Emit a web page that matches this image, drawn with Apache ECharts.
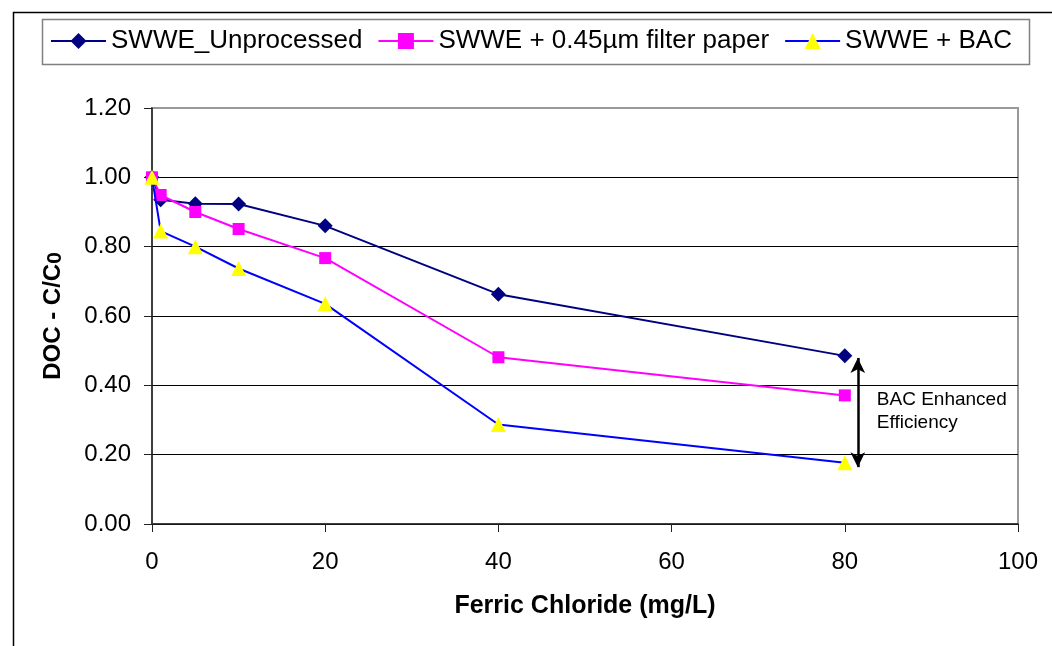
<!DOCTYPE html>
<html>
<head>
<meta charset="utf-8">
<script src="https://cdn.jsdelivr.net/npm/echarts@6/dist/echarts.min.js"></script>
<style>
html,body{margin:0;padding:0;background:#fff;}
#chart{width:1052px;height:646px;}
</style>
</head>
<body>
<div id="chart"></div>
<script>
// ---- data ----
const ferricChloride = [0, 1, 5, 10, 20, 40, 80];
const unprocessed = [1.00, 0.935, 0.924, 0.923, 0.86, 0.663, 0.485];
const filterPaper = [1.00, 0.949, 0.90, 0.851, 0.767, 0.481, 0.371];
const bac = [1.00, 0.845, 0.80, 0.737, 0.635, 0.287, 0.177];
const seriesNames = ['SWWE_Unprocessed', 'SWWE + 0.45\u00b5m filter paper', 'SWWE + BAC'];
const xTicks = [0, 20, 40, 60, 80, 100];
const yTicks = [0.00, 0.20, 0.40, 0.60, 0.80, 1.00, 1.20];
const annotationLines = ['BAC Enhanced', 'Efficiency'];
const arrowX = 81.5, arrowTop = 0.479, arrowBottom = 0.164;

const font = '"Liberation Sans", Arial, sans-serif';
const pair = (xs, ys) => xs.map((x, i) => [x, ys[i]]);

const chart = echarts.init(document.getElementById('chart'), null, {renderer: 'canvas'});
const frame = [
  {type: 'rect', left: 11, top: 10, shape: {width: 1100, height: 700}, style: {fill: 'none', stroke: '#000', lineWidth: 1.5}, z: 0, silent: true},
  {type: 'rect', left: 40, top: 17, shape: {width: 987, height: 45}, style: {fill: 'none', stroke: '#808080', lineWidth: 1.5}, z: 0, silent: true}
];
const option = {
  animation: false,
  backgroundColor: '#fff',
  textStyle: {fontFamily: font},
  grid: {left: 152, right: 34, top: 108, bottom: 122, show: true, borderColor: '#999', borderWidth: 2, backgroundColor: 'transparent'},
  legend: {
    left: 50, top: 28, padding: 0, itemGap: 15, itemWidth: 55, itemHeight: 20,
    textStyle: {fontSize: 26, color: '#000', fontFamily: font, padding: [0, 0, 0, 0]},
    data: seriesNames
  },
  xAxis: {
    type: 'value', min: xTicks[0], max: xTicks[xTicks.length - 1], interval: 20,
    name: 'Ferric Chloride (mg/L)', nameLocation: 'middle', nameGap: 70,
    nameTextStyle: {fontSize: 25, fontWeight: 'bold', color: '#000', fontFamily: font},
    axisLine: {lineStyle: {color: '#222', width: 1.5}},
    axisTick: {show: true, inside: false, length: 8, lineStyle: {color: '#222'}},
    axisLabel: {fontSize: 24, color: '#000', margin: 26, fontFamily: font},
    splitLine: {show: false}
  },
  yAxis: {
    type: 'value', min: yTicks[0], max: yTicks[yTicks.length - 1], interval: 0.2,
    name: 'DOC - C/C{sub|0}', nameLocation: 'middle', nameGap: 86, nameRotate: 90,
    nameTextStyle: {fontSize: 24, fontWeight: 'bold', color: '#000', fontFamily: font,
      rich: {sub: {fontSize: 21, fontWeight: 'bold', color: '#000', fontFamily: font, verticalAlign: 'bottom', padding: [4, 0, 0, 0]}}},
    axisLine: {show: true, lineStyle: {color: '#222', width: 1.5}},
    axisTick: {show: true, inside: false, length: 8, lineStyle: {color: '#222'}},
    axisLabel: {fontSize: 24, color: '#000', margin: 21, fontFamily: font, formatter: v => v.toFixed(2)},
    splitLine: {show: true, showMaxLine: false, lineStyle: {color: '#000', width: 1.2}}
  },
  series: [
    {
      name: seriesNames[0], type: 'line', data: pair(ferricChloride, unprocessed),
      symbol: 'diamond', symbolSize: 15, showAllSymbol: true,
      lineStyle: {color: '#000080', width: 2}, itemStyle: {color: '#000080'}, z: 3
    },
    {
      name: seriesNames[1], type: 'line', data: pair(ferricChloride, filterPaper),
      symbol: 'rect', symbolSize: 12,
      lineStyle: {color: '#FF00FF', width: 2}, itemStyle: {color: '#FF00FF'}, z: 4
    },
    {
      name: seriesNames[2], type: 'line', data: pair(ferricChloride, bac),
      symbol: 'triangle', symbolSize: 15,
      lineStyle: {color: '#0000FF', width: 2}, itemStyle: {color: '#FFFF00'}, z: 5,
      markLine: {
        silent: true, symbol: ['arrow', 'arrow'], symbolSize: [11, 15],
        lineStyle: {color: '#000', width: 2.5, type: 'solid'},
        label: {show: false},
        data: [[{coord: [arrowX, arrowTop]}, {coord: [arrowX, arrowBottom]}]]
      }
    }
  ],
  graphic: frame
};
chart.setOption(option);

// annotation text placed relative to data coordinates
const p = chart.convertToPixel({gridIndex: 0}, [arrowX, (arrowTop + arrowBottom) / 2]);
chart.setOption({
  graphic: frame.concat([
    {type: 'text', x: p[0] + 19, y: p[1] - 1, z: 10, silent: true,
     style: {text: annotationLines.join('\n'), font: '19px ' + font, fill: '#000', lineHeight: 23, textVerticalAlign: 'middle', textAlign: 'left'}}
  ])
});
</script>
</body>
</html>
